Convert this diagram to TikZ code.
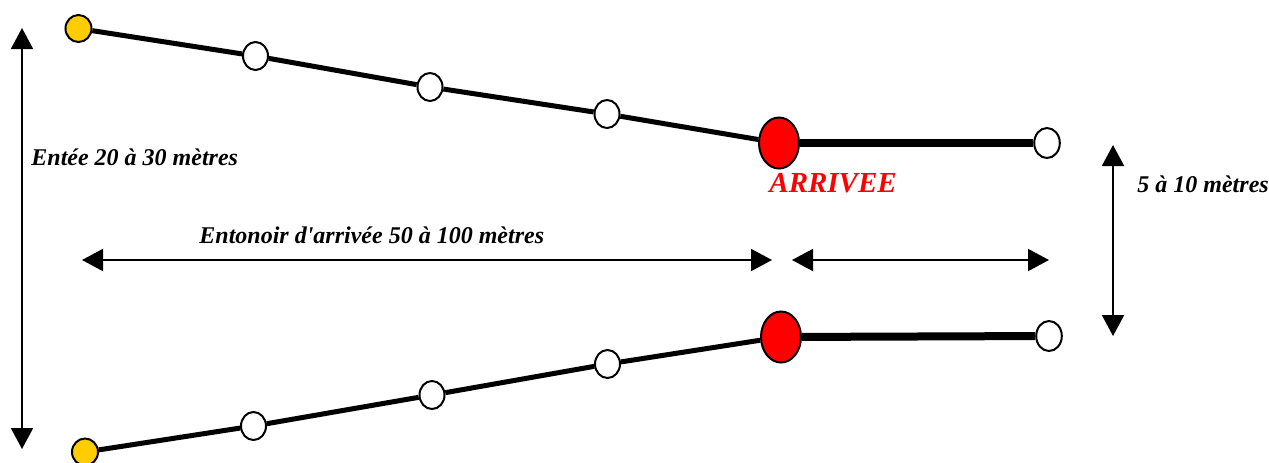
\documentclass[tikz,border=0pt]{standalone}
\usepackage{fontspec}
\setmainfont{Liberation Serif}
\usetikzlibrary{shapes.geometric,arrows.meta}

\definecolor{jaune}{HTML}{FFCC00}
\tikzset{
  piquet/.style={ellipse,draw,line width=1pt,inner sep=0pt,fill=white,minimum width=12.5pt,minimum height=14pt},
  depart/.style={piquet,fill=jaune,minimum width=13pt,minimum height=13.5pt},
  arrivee/.style={piquet,fill=red,minimum width=20pt,minimum height=25.5pt},
  fin/.style={piquet,minimum width=12.8pt,minimum height=15pt},
  entonnoir/.style={line width=2.5pt},
  couloir/.style={line width=4pt},
  cote/.style={line width=1pt,{Triangle[length=10.5pt,width=11pt]}-{Triangle[length=10.5pt,width=11pt]}},
  legende/.style={anchor=base west,inner sep=0pt,font=\fontsize{12}{14}\selectfont\bfseries\itshape},
}

\begin{document}
\begin{tikzpicture}[x=0.5pt,y=-0.5pt]
\useasboundingbox (0,0) rectangle (1269,462);
% haut
\node [depart] (h0) at (78.5,28.5) {};
\node [piquet] (h1) at (255.5,56) {};
\node [piquet] (h2) at (430,87) {};
\node [piquet] (h3) at (607,114) {};
\node [arrivee] (ha) at (779,143) {};
\node [fin] (hf) at (1047,143) {};
\draw [entonnoir] (h0) -- (h1) -- (h2) -- (h3) -- (ha);
\draw [couloir] (ha) -- (hf);
% bas
\node [depart] (b0) at (85,452) {};
\node [piquet] (b1) at (253.5,426) {};
\node [piquet] (b2) at (432,395) {};
\node [piquet] (b3) at (607.5,364) {};
\node [arrivee] (ba) at (781,337) {};
\node [fin] (bf) at (1049,336) {};
\draw [entonnoir] (b0) -- (b1) -- (b2) -- (b3) -- (ba);
\draw [couloir] (ba) -- (bf);
% cotes
\coordinate (e1) at (22,28);
\coordinate (e2) at (22,449);
\coordinate (t1) at (82,260);
\coordinate (t2) at (772,260);
\coordinate (c1) at (792,260);
\coordinate (c2) at (1049,260);
\coordinate (l1) at (1113,145);
\coordinate (l2) at (1113,336);
\draw [cote] (e1) -- (e2);
\draw [cote] (t1) -- (t2);
\draw [cote] (c1) -- (c2);
\draw [cote] (l1) -- (l2);
\node [legende] (entree) at (31,165) {Entée 20 à 30 mètres};
\node [legende] (entonnoir) at (199,243) {Entonoir d\textquotesingle arrivée 50 à 100 mètres};
\node [legende,text=red,font=\fontsize{14.5}{17}\selectfont\bfseries\itshape] (arr) at (769,192) {ARRIVEE};
\node [legende] (largeur) at (1137,192) {5 à 10 mètres};
\end{tikzpicture}
\end{document}
